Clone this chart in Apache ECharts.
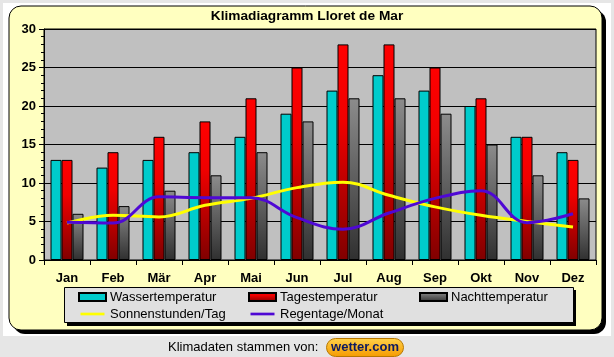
<!DOCTYPE html>
<html>
<head>
<meta charset="utf-8">
<script src="https://cdn.jsdelivr.net/npm/echarts@6/dist/echarts.min.js"></script>
<style>
html,body{margin:0;padding:0;background:#e6e6e6;}
#c{width:614px;height:357px;}
</style>
</head>
<body>
<div id="c"></div>
<script>
const months = ['Jan','Feb','Mär','Apr','Mai','Jun','Jul','Aug','Sep','Okt','Nov','Dez'];
const wasser = [13,12,13,14,16,19,22,24,22,20,16,14];
const tages = [13,14,16,18,21,25,28,28,25,21,16,13];
const nacht = [6,7,9,11,14,18,21,21,19,15,11,8];
const sonne = [4.8,5.8,5.6,7.1,8.0,9.4,10.1,8.4,6.9,5.8,5.0,4.3];
const regen = [4.9,4.8,8.2,8.1,8.1,5.5,4.0,6.1,8.0,9.0,4.85,6.0];
const yTicks = [0,5,10,15,20,25,30];

const FONT = 'Liberation Sans, Arial, sans-serif';
const chart = echarts.init(document.getElementById('c'));

const redGrad = new echarts.graphic.LinearGradient(0,0,0,1,[
  {offset:0,color:'#ff0000'},{offset:0.35,color:'#f00000'},{offset:1,color:'#800000'}]);
const grayGrad = new echarts.graphic.LinearGradient(0,0,0,1,[
  {offset:0,color:'#8c8c8c'},{offset:1,color:'#303030'}]);
const lineIcon = 'path://M0,0M0,3L27,3L27,6L0,6ZM27,9';

const legendBase = {
  orient:'vertical', top:290, itemWidth:27, itemHeight:8, itemGap:3,
  textStyle:{fontFamily:FONT,fontSize:13,color:'#000',lineHeight:14,padding:[0,0,0,-1]},
  padding:0
};

chart.setOption({
  animation:false,
  backgroundColor:'transparent',
  graphic:[
    {type:'rect',z:-20,silent:true,shape:{x:3,y:3,width:608,height:333},style:{fill:'#ffffff'}},
    {type:'rect',z:-10,silent:true,shape:{x:13,y:10,width:593,height:324,r:12},style:{fill:'#000'}},
    {type:'rect',z:-9,silent:true,shape:{x:9,y:6,width:593,height:324,r:12},style:{fill:'#ffffc0',stroke:'#000',lineWidth:1}},
    {type:'rect',z:-5,silent:true,shape:{x:67,y:290,width:509,height:36},style:{fill:'#000'}},
    {type:'rect',z:-4,silent:true,shape:{x:64.5,y:287.5,width:509,height:35},style:{fill:'#e0e0e0',stroke:'#000',lineWidth:1}},
    {type:'text',silent:true,style:{x:168,y:347,text:'Klimadaten stammen von:',fontFamily:FONT,fontSize:13,fill:'#000',verticalAlign:'middle'}},
    {type:'rect',silent:true,shape:{x:326.5,y:338.5,width:77,height:18,r:9},
      style:{fill:new echarts.graphic.LinearGradient(0,0,0,1,[{offset:0,color:'#ffd24a'},{offset:1,color:'#f59a00'}]),stroke:'#b87800',lineWidth:1}},
    {type:'text',silent:true,style:{x:365,y:347.5,text:'wetter.com',fontFamily:FONT,fontSize:13,fontWeight:'bold',fill:'#0d1a60',align:'center',verticalAlign:'middle'}}
  ],
  title:{text:'Klimadiagramm Lloret de Mar',left:'center',top:9,padding:0,
    textStyle:{fontFamily:FONT,fontSize:13.7,fontWeight:'bold',color:'#000'}},
  legend:[
    Object.assign({},legendBase,{left:78,data:[{name:'Wassertemperatur',icon:'rect'},{name:'Sonnenstunden/Tag',icon:lineIcon}]}),
    Object.assign({},legendBase,{left:248,data:[{name:'Tagestemperatur',icon:'rect'},{name:'Regentage/Monat',icon:lineIcon}]}),
    Object.assign({},legendBase,{left:419,data:[{name:'Nachttemperatur',icon:'rect'}]})
  ],
  grid:{left:44,top:29,width:552,height:231,show:true,backgroundColor:'#c0c0c0',borderColor:'#000',borderWidth:1,containLabel:false},
  xAxis:{type:'category',data:months,boundaryGap:true,
    axisLine:{lineStyle:{color:'#000',width:1}},
    axisTick:{show:true,length:5,lineStyle:{color:'#000'}},
    axisLabel:{fontFamily:FONT,fontSize:13,fontWeight:'bold',color:'#000',margin:12}},
  yAxis:{type:'value',min:yTicks[0],max:yTicks[yTicks.length-1],interval:5,
    axisLine:{show:true,lineStyle:{color:'#000',width:1}},
    axisTick:{show:true,length:5,lineStyle:{color:'#000'}},
    minorTick:{show:true,splitNumber:5,length:3,lineStyle:{color:'#000'}},
    splitLine:{show:true,lineStyle:{color:'#000',width:1}},
    axisLabel:{fontFamily:FONT,fontSize:13,fontWeight:'bold',color:'#000',margin:8}},
  series:[
    {name:'Wassertemperatur',type:'bar',data:wasser,barWidth:11,barGap:'0%',
      itemStyle:{color:'#00cccc',borderColor:'#000',borderWidth:1}},
    {name:'Tagestemperatur',type:'bar',data:tages,barWidth:11,barGap:'0%',
      itemStyle:{color:redGrad,borderColor:'#000',borderWidth:1}},
    {name:'Nachttemperatur',type:'bar',data:nacht,barWidth:11,barGap:'0%',
      itemStyle:{color:grayGrad,borderColor:'#000',borderWidth:1}},
    {name:'Sonnenstunden/Tag',type:'line',data:sonne,smooth:0.4,symbol:'none',z:5,
      lineStyle:{color:'#ffff00',width:3},itemStyle:{color:'#ffff00'}},
    {name:'Regentage/Monat',type:'line',data:regen,smooth:0.4,symbol:'none',z:6,
      lineStyle:{color:'#4f08d4',width:3},itemStyle:{color:'#4f08d4'}}
  ]
});
</script>
</body>
</html>
